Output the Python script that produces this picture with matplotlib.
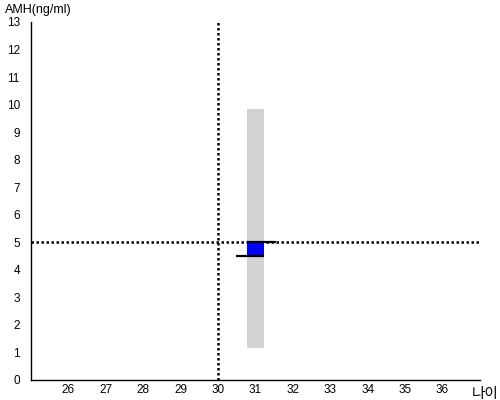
import matplotlib
matplotlib.use("Agg")
import matplotlib.pyplot as plt

plt.rcParams['font.family'] = ['Liberation Sans', 'Noto Sans CJK KR', 'DejaVu Sans']

x_ticks = [26, 27, 28, 29, 30, 31, 32, 33, 34, 35, 36]
y_ticks = list(range(0, 14))
ref_age = 30
ref_amh = 5.0
age = 31
range_low, range_high = 1.16, 9.85
box_low, box_high = 4.52, 5.0
line_top = (30.78, 31.55, 5.0)
line_bot = (30.48, 31.23, 4.52)

fig = plt.figure(figsize=(5, 4), dpi=100)
ax = fig.add_axes([0.062, 0.05, 0.898, 0.895])
ax.set_xlim(25, 37)
ax.set_ylim(0, 13)

w = 0.43
ax.bar([age], [range_high - range_low], bottom=[range_low], width=w, color='#d3d3d3', zorder=1)
ax.bar([age], [box_high - box_low], bottom=[box_low], width=w, color='#0000ff', zorder=3)
ax.plot([line_top[0], line_top[1]], [line_top[2], line_top[2]], color='black', lw=1.6,
        solid_capstyle='butt', zorder=4)
ax.plot([line_bot[0], line_bot[1]], [line_bot[2], line_bot[2]], color='black', lw=1.6,
        solid_capstyle='butt', zorder=4)

ax.axvline(ref_age, color='black', lw=1.8, linestyle=(0, (1, 1)), zorder=2)
ax.axhline(ref_amh, color='black', lw=1.8, linestyle=(0, (1, 1)), zorder=2)

ax.set_xticks(x_ticks)
ax.set_yticks(y_ticks)
ax.tick_params(axis='both', length=0, labelsize=8.5)
ax.tick_params(axis='y', pad=8)
ax.tick_params(axis='x', pad=3)
ax.spines['top'].set_visible(False)
ax.spines['right'].set_visible(False)
ax.spines['left'].set_linewidth(1.0)
ax.spines['bottom'].set_linewidth(1.0)

fig.text(0.01, 0.975, 'AMH(ng/ml)', fontsize=9, va='center', ha='left')
fig.text(0.97, 0.016, '나이', fontsize=10.5, va='center', ha='center')

fig.savefig('out.png', dpi=100)
